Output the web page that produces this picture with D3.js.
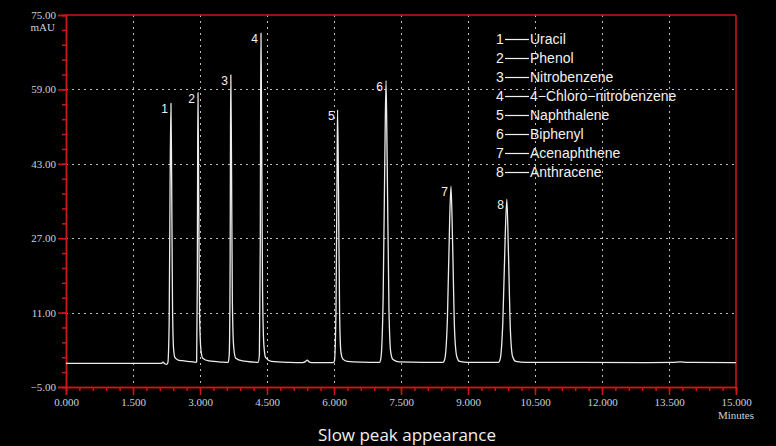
<!DOCTYPE html>
<html>
<head>
<meta charset="utf-8">
<script src="https://cdn.jsdelivr.net/npm/d3@7"></script>
<style>
  html, body { margin: 0; padding: 0; background: #000; }
  svg { display: block; }
</style>
</head>
<body>
<div id="chart"></div>
<script>
// y ticks (mAU) and x ticks (minutes)
var yTicks = [-5, 11, 27, 43, 59, 75];
var xTicks = [0, 1.5, 3, 4.5, 6, 7.5, 9, 10.5, 12, 13.5, 15];

// compounds in the legend
var compoundNames = ["Uracil", "Phenol", "Nitrobenzene", "4-Chloro-nitrobenzene",
    "Naphthalene", "Biphenyl", "Acenaphthene", "Anthracene"];

// peak apex positions
var peakNumbers = [1, 2, 3, 4, 5, 6, 7, 8];
var peakTimes   = [2.35, 2.955, 3.69, 4.365, 6.08, 7.165, 8.62, 9.87];
var peakHeights = [56.0, 58.3, 62.1, 71.1, 54.6, 60.9, 38.2, 35.4];

// detector trace, points (minutes, mAU)
var traceTime = [
    0, 1.0, 2.14, 2.17, 2.21, 2.25,
    2.28, 2.31, 2.33, 2.35, 2.365, 2.385, 2.41, 2.44, 2.5, 2.6, 2.8, 2.91,
    2.925, 2.94, 2.948, 2.955, 2.97, 2.99, 3.02, 3.06, 3.2, 3.5, 3.63,
    3.655, 3.675, 3.683, 3.69, 3.705, 3.725, 3.755, 3.8, 3.95, 4.2, 4.3,
    4.33, 4.35, 4.358, 4.365, 4.38, 4.40, 4.43, 4.47, 4.6, 5.0, 5.3, 5.36, 5.40, 5.44, 5.5, 5.98,
    6.01, 6.045, 6.07, 6.08, 6.10, 6.125, 6.155, 6.2, 6.3, 6.6, 7.02,
    7.05, 7.10, 7.14, 7.165, 7.19, 7.23, 7.27, 7.32, 7.45, 8.0, 8.44,
    8.48, 8.54, 8.59, 8.62, 8.655, 8.70, 8.75, 8.81, 9.0, 9.68,
    9.72, 9.78, 9.835, 9.87, 9.905, 9.95, 10.0, 10.07, 10.3, 11.5, 13.0, 13.6, 13.75, 13.9, 15.0
];
var traceSignal = [
    0.1, 0.1, 0.1, 0.35, 0.0, -0.15,
    0.2, 9, 38, 56.0, 40, 12, 3, 1.3, 0.85, 0.65, 0.45, 0.3,
    0.5, 18, 46, 58.3, 38, 11, 3, 1.2, 0.6, 0.35, 0.3,
    2, 22, 50, 62.1, 44, 13, 3.5, 1.2, 0.6, 0.35, 0.3,
    2, 26, 58, 71.1, 50, 16, 4, 1.3, 0.5, 0.3, 0.25, 0.45, 0.8, 0.4, 0.25, 0.25,
    0.6, 12, 44, 54.6, 38, 11, 2.5, 1.0, 0.5, 0.35, 0.3,
    1.2, 14, 46, 60.9, 44, 12, 2.5, 0.9, 0.4, 0.3, 0.3,
    1.0, 10, 31, 38.2, 26, 7, 1.5, 0.5, 0.3, 0.3,
    1.0, 9, 28, 35.4, 24, 7, 1.5, 0.5, 0.3, 0.28, 0.25, 0.3, 0.4, 0.3, 0.25
];

var W = 776, H = 446;
var red = "#d01515", labelColor = "#c9d3dd";
var monoFont = "'Liberation Serif', serif";
var sansFont = "'Liberation Sans', Arial, sans-serif";

var svg = d3.select("#chart").append("svg")
    .attr("width", W)
    .attr("height", H)
    .style("background", "#000");

var x = d3.scaleLinear().domain([0, 15]).range([66, 736]);
var y = d3.scaleLinear().domain([-5, 75]).range([387, 15]);

// dotted grid at inner major ticks
var grid = svg.append("g").attr("class", "grid")
    .attr("stroke", "#bdbdbd")
    .attr("stroke-width", 1)
    .attr("stroke-dasharray", "2,4");
grid.selectAll("line.gx")
    .data(xTicks.slice(1, -1))
    .enter().append("line")
    .attr("class", "gx")
    .attr("x1", function(d) { return Math.round(x(d)) + 0.5; })
    .attr("x2", function(d) { return Math.round(x(d)) + 0.5; })
    .attr("y1", y(75)).attr("y2", y(-5));
grid.selectAll("line.gy")
    .data(yTicks.slice(1, -1))
    .enter().append("line")
    .attr("class", "gy")
    .attr("y1", function(d) { return Math.round(y(d)) + 0.5; })
    .attr("y2", function(d) { return Math.round(y(d)) + 0.5; })
    .attr("x1", x(0)).attr("x2", x(15));

// minor ticks
var yMinor = d3.range(-5, 75.01, 3.2);
var xMinor = d3.range(0, 15.01, 0.3);

function styleAxis(g) {
    g.select(".domain").attr("stroke", red).attr("stroke-width", 1.5);
    g.selectAll(".tick line").attr("stroke", red).attr("stroke-width", 1.5);
    g.selectAll(".tick text")
        .attr("fill", labelColor)
        .style("font-family", monoFont)
        .style("font-size", "11px");
}

svg.append("g")
    .attr("transform", "translate(" + x(0) + ",0)")
    .call(d3.axisLeft(y).tickValues(yMinor).tickSize(4).tickFormat(""))
    .call(styleAxis);
svg.append("g")
    .attr("transform", "translate(0," + y(-5) + ")")
    .call(d3.axisBottom(x).tickValues(xMinor).tickSize(4).tickFormat(""))
    .call(styleAxis);

svg.append("g")
    .attr("transform", "translate(" + x(0) + ",0)")
    .call(d3.axisLeft(y).tickValues(yTicks).tickSize(8).tickPadding(2)
        .tickFormat(d3.format(".2f")))
    .call(styleAxis);
svg.append("g")
    .attr("transform", "translate(0," + y(-5) + ")")
    .call(d3.axisBottom(x).tickValues(xTicks).tickSize(8).tickPadding(3)
        .tickFormat(d3.format(".3f")))
    .call(styleAxis);

// top and right frame
svg.append("line")
    .attr("x1", x(0)).attr("x2", x(15))
    .attr("y1", y(75)).attr("y2", y(75))
    .attr("stroke", red).attr("stroke-width", 1.5);
svg.append("line")
    .attr("x1", x(15)).attr("x2", x(15))
    .attr("y1", y(75)).attr("y2", y(-5))
    .attr("stroke", red).attr("stroke-width", 1.5);

// units
svg.append("text")
    .attr("x", 55).attr("y", 31)
    .attr("text-anchor", "end")
    .attr("fill", labelColor)
    .style("font-family", monoFont).style("font-size", "11px")
    .text("mAU");
svg.append("text")
    .attr("x", x(15)).attr("y", 419)
    .attr("text-anchor", "middle")
    .attr("fill", labelColor)
    .style("font-family", monoFont).style("font-size", "11px")
    .text("Minutes");

// trace
var trace = traceTime.map(function(t, i) { return [t, traceSignal[i]]; });
var line = d3.line()
    .curve(d3.curveMonotoneX)
    .x(function(d) { return x(d[0]); })
    .y(function(d) { return y(d[1]); });
svg.append("path")
    .datum(trace)
    .attr("d", line)
    .attr("fill", "none")
    .attr("stroke", "#ececec")
    .attr("stroke-width", 1.3)
    .attr("stroke-linejoin", "round");

// peak numbers
svg.append("g").selectAll("text")
    .data(peakNumbers)
    .enter().append("text")
    .attr("x", function(d, i) { return x(peakTimes[i]) - 3; })
    .attr("y", function(d, i) { return y(peakHeights[i]) + 10; })
    .attr("text-anchor", "end")
    .attr("fill", "#f2f2f2")
    .style("font-family", sansFont)
    .style("font-size", "12px")
    .text(function(d) { return d; });

// legend
var legend = svg.append("g").attr("class", "legend");
var rows = legend.selectAll("g")
    .data(compoundNames)
    .enter().append("g")
    .attr("transform", function(d, i) { return "translate(496," + (39 + i * 19) + ")"; });
rows.append("text")
    .attr("y", 5)
    .attr("fill", "#f2f2f2")
    .style("font-family", sansFont)
    .style("font-size", "14px")
    .text(function(d, i) { return peakNumbers[i]; });
rows.append("line")
    .attr("x1", 9).attr("x2", 33)
    .attr("y1", 0.5).attr("y2", 0.5)
    .attr("stroke", "#f2f2f2").attr("stroke-width", 1.2);
rows.append("text")
    .attr("x", 34).attr("y", 5)
    .attr("fill", "#f2f2f2")
    .style("font-family", sansFont)
    .style("font-size", "14px")
    .text(function(d) { return d.replace(/-/g, "\u2212"); });

// caption
svg.append("text")
    .attr("x", 407).attr("y", 441)
    .attr("text-anchor", "middle")
    .attr("fill", "#f0f0f0")
    .style("font-family", "'Open Sans', sans-serif")
    .style("font-size", "17px")
    .text("Slow peak appearance");
</script>
</body>
</html>
